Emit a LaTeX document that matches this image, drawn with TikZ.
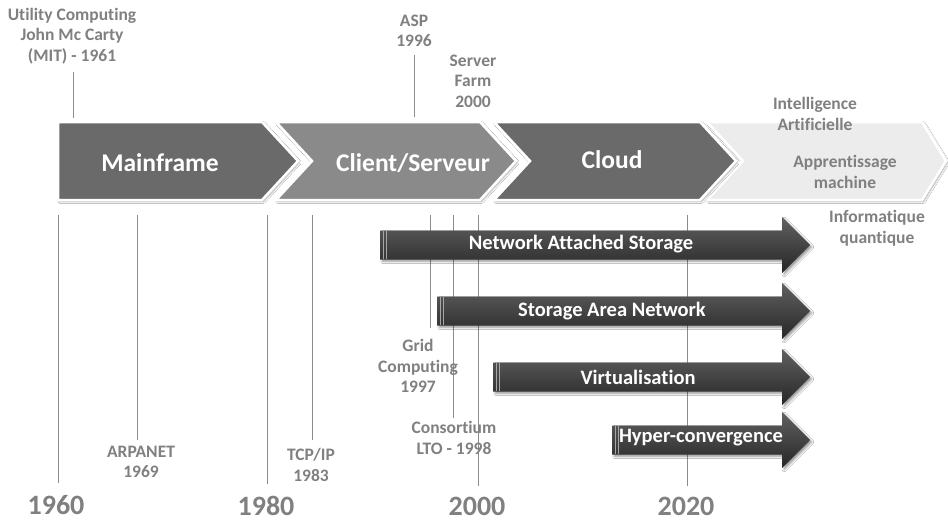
\documentclass[tikz,border=0pt]{standalone}
\usepackage{fontspec}
\setmainfont{Carlito}[Ligatures={NoCommon}]
\usetikzlibrary{shadows.blur}
\definecolor{lblgray}{HTML}{808080}
\definecolor{chevdark}{HTML}{6A6A6A}
\definecolor{chevmid}{HTML}{8A8A8A}
\definecolor{chevlight}{HTML}{ECECEC}
\definecolor{tickgray}{HTML}{8C8C8C}
\tikzset{
  lbl/.style={text=lblgray, font=\bfseries\fontsize{17.5}{20.5}\selectfont, align=center, inner sep=0pt},
  yearlbl/.style={text=lblgray, font=\bfseries\fontsize{28}{30}\selectfont, inner sep=0pt},
  chevtext/.style={text=white, font=\bfseries\fontsize{25.5}{28}\selectfont, inner sep=0pt},
  arrtext/.style={text=white, font=\bfseries\fontsize{20.5}{22}\selectfont, inner sep=0pt},
  chev/.style={draw=white, line width=2.5pt, line join=miter, blur shadow={shadow xshift=1.5pt, shadow yshift=-1.5pt, shadow blur steps=5, shadow opacity=35}},
  tick/.style={draw=tickgray, line width=0.8pt},
  blockarr/.style={top color=black!62, bottom color=black!85, draw=none, blur shadow={shadow xshift=2pt, shadow yshift=-2pt, shadow blur steps=5, shadow opacity=40}},
  stripe/.style={draw=black!35, line width=0.8pt}
}
\begin{document}
\begin{tikzpicture}[x=1pt,y=-1pt]
\useasboundingbox (0,0) rectangle (948,522);
\fill[white] (0,0) rectangle (948,522);

% tick lines (behind everything)
\coordinate (t60a) at (58,215);   \coordinate (t60b) at (58,483);
\coordinate (t69a) at (137,215);  \coordinate (t69b) at (137,440);
\coordinate (t80a) at (267,215);  \coordinate (t80b) at (267,484);
\coordinate (t83a) at (312,215);  \coordinate (t83b) at (312,440);
\coordinate (t97a) at (430,215);  \coordinate (t97b) at (430,328);
\coordinate (t98a) at (453,215);  \coordinate (t98b) at (453,418);
\coordinate (t00a) at (478,215);  \coordinate (t00b) at (478,486);
\coordinate (t20a) at (687,215);  \coordinate (t20b) at (687,486);
\coordinate (t61a) at (73,72);    \coordinate (t61b) at (73,118);
\coordinate (t96a) at (414,55);   \coordinate (t96b) at (414,117);
\foreach \a/\b in {t60a/t60b,t69a/t69b,t80a/t80b,t83a/t83b,t97a/t97b,t98a/t98b,t00a/t00b,t20a/t20b,t61a/t61b,t96a/t96b}
  \draw[tick] (\a) -- (\b);

% chevrons
\filldraw[chev, fill=chevlight] (707,122) -- (922,122) -- (946,161) -- (922,200) -- (707,200) -- (743,161) -- cycle;
\filldraw[chev, fill=chevdark] (494,122) -- (700,122) -- (736,161) -- (700,200) -- (494,200) -- (530,161) -- cycle;
\filldraw[chev, fill=chevmid] (276,122) -- (480,122) -- (516,161) -- (480,200) -- (276,200) -- (312,161) -- cycle;
\filldraw[chev, fill=chevdark] (58,122) -- (262,122) -- (298,161) -- (262,200) -- (58,200) -- cycle;

\node[chevtext] (mainframe) at (160,163) {Mainframe};
\node[chevtext] (clientserv) at (413,163) {Client/Serveur};
\node[chevtext] (cloud) at (612,160) {Cloud};

% block arrows
\foreach \xl/\yc in {380/245, 437/311, 493/377, 612/440}{
  \path[blockarr] (\xl,\yc-14.5) -- (782,\yc-14.5) -- (782,\yc-28) -- (810,\yc) -- (782,\yc+28) -- (782,\yc+14.5) -- (\xl,\yc+14.5) -- cycle;
  \draw[stripe] (\xl+3,\yc-14) -- (\xl+3,\yc+14);
  \draw[stripe] (\xl+6,\yc-14) -- (\xl+6,\yc+14);
}
\node[arrtext] (nas) at (581,244) {Network Attached Storage};
\node[arrtext] (san) at (612,311) {Storage Area Network};
\node[arrtext] (virt) at (638,377) {Virtualisation};
\node[arrtext] (hyper) at (701,438) {Hyper-convergence};

% labels
\node[lbl] (utility) at (72,36) {Utility Computing\\John Mc Carty\\(MIT) - 1961};
\node[lbl] (asp) at (414,31) {ASP\\1996};
\node[lbl] (farm) at (473,81) {Server\\Farm\\2000};
\node[lbl] (ia) at (815,114) {Intelligence\\Artificielle};
\node[lbl] (ml) at (845,172) {Apprentissage\\machine};
\node[lbl] (quant) at (877,228) {Informatique\\quantique};
\node[lbl] (arpanet) at (141,462) {ARPANET\\1969};
\node[lbl] (tcpip) at (311,465) {TCP/IP\\1983};
\node[lbl] (grid) at (418,366) {Grid\\Computing\\1997};
\node[lbl] (lto) at (454,438) {Consortium\\LTO - 1998};

\node[yearlbl] (y60) at (56,505) {1960};
\node[yearlbl] (y80) at (266,506) {1980};
\node[yearlbl] (y00) at (477,506) {2000};
\node[yearlbl] (y20) at (686,506) {2020};
\end{tikzpicture}
\end{document}
